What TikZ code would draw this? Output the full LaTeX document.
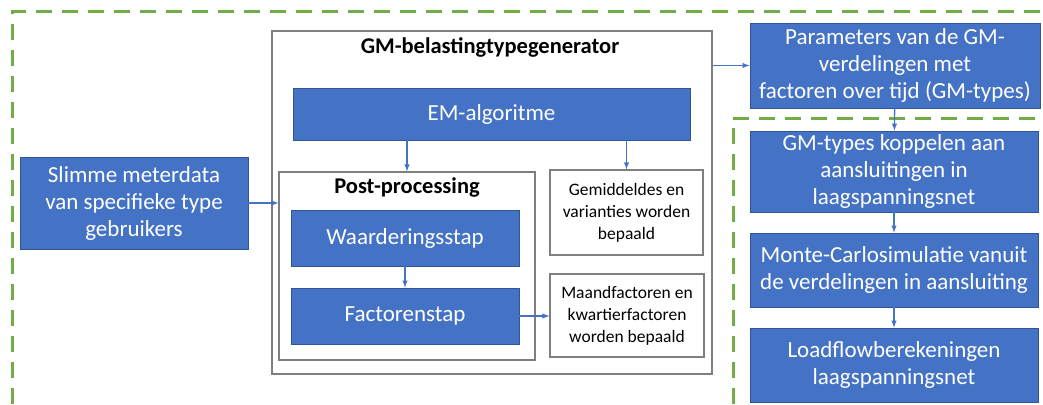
\documentclass[tikz,border=0pt]{standalone}
\usepackage{fontspec}
\setmainfont{Carlito}
\usetikzlibrary{arrows}
\usepackage{xcolor}
\definecolor{blokblauw}{HTML}{4472C4}
\definecolor{blokrand}{HTML}{2F5597}
\definecolor{kadergrijs}{HTML}{7F7F7F}
\definecolor{groen}{HTML}{70AD47}

\begin{document}
\begin{tikzpicture}[x=1pt,y=-1pt,
  blok/.style={rectangle,draw=blokrand,line width=0.8pt,fill=blokblauw,text=white,align=center,inner sep=0pt,font=\fontsize{23}{27}\selectfont},
  kader/.style={rectangle,draw=kadergrijs,line width=1.2pt,fill=white,align=center,inner sep=0pt,font=\fontsize{17.5}{22}\selectfont},
  titel/.style={font=\fontsize{22.5}{26}\selectfont\bfseries,inner sep=0pt},
  pijl/.style={-latex,draw=blokblauw,line width=1.4pt},
  grens/.style={draw=groen,line width=3pt,dash pattern=on 16pt off 10pt}]
\useasboundingbox (0,0) rectangle (1043,404);
\draw [grens] (12,404) -- (12,12) -- (1043,12);
\draw [grens] (733,404) -- (733,118) -- (1043,118);

\node [kader,minimum width=440pt,minimum height=343pt] (gmgen) at (492,202.5) {};
\node [titel] (gmtitel) at (490,47) {GM-belastingtypegenerator};
\node [blok,minimum width=397pt,minimum height=52pt] (em) at (491.5,114) {EM-algoritme};
\node [kader,minimum width=256pt,minimum height=188pt] (post) at (407,266) {};
\node [titel] (posttitel) at (407,188) {Post-processing};
\node [blok,minimum width=228pt,minimum height=56pt] (waard) at (405,238) {Waarderingsstap};
\node [blok,minimum width=228pt,minimum height=56pt] (factor) at (405,316) {Factorenstap};
\node [kader,minimum width=153pt,minimum height=85pt] (gem) at (626.5,212.5) {Gemiddeldes en\\varianties worden\\bepaald};
\node [kader,minimum width=154pt,minimum height=83pt] (maand) at (627,315.5) {Maandfactoren en\\kwartierfactoren\\worden bepaald};
\node [blok,minimum width=228pt,minimum height=92pt] (slim) at (134,203) {Slimme meterdata\\van specifieke type\\gebruikers};
\node [blok,minimum width=290pt,minimum height=85pt] (param) at (895,65.5) {Parameters van de GM-\\verdelingen met\\factoren over tijd (GM-types)};
\node [blok,minimum width=288pt,minimum height=81pt] (koppel) at (894,171.5) {GM-types koppelen aan\\aansluitingen in\\laagspanningsnet};
\node [blok,minimum width=288pt,minimum height=74pt] (monte) at (894,270) {Monte-Carlosimulatie vanuit\\de verdelingen in aansluiting};
\node [blok,minimum width=288pt,minimum height=74pt] (load) at (894,365) {Loadflowberekeningen\\laagspanningsnet};

\draw [pijl] (slim.east) -- (slim.east -| post.west);
\draw [pijl] (post.north |- em.south) -- (post.north);
\draw [pijl] (gem.north |- em.south) -- (gem.north);
\draw [pijl] (waard) -- (factor);
\draw [pijl] (factor.east) -- (factor.east -| maand.west);
\draw [pijl] (param.west -| gmgen.east) -- (param.west);
\draw [pijl] (param) -- (koppel);
\draw [pijl] (koppel) -- (monte);
\draw [pijl] (monte) -- (load);
\end{tikzpicture}
\end{document}
